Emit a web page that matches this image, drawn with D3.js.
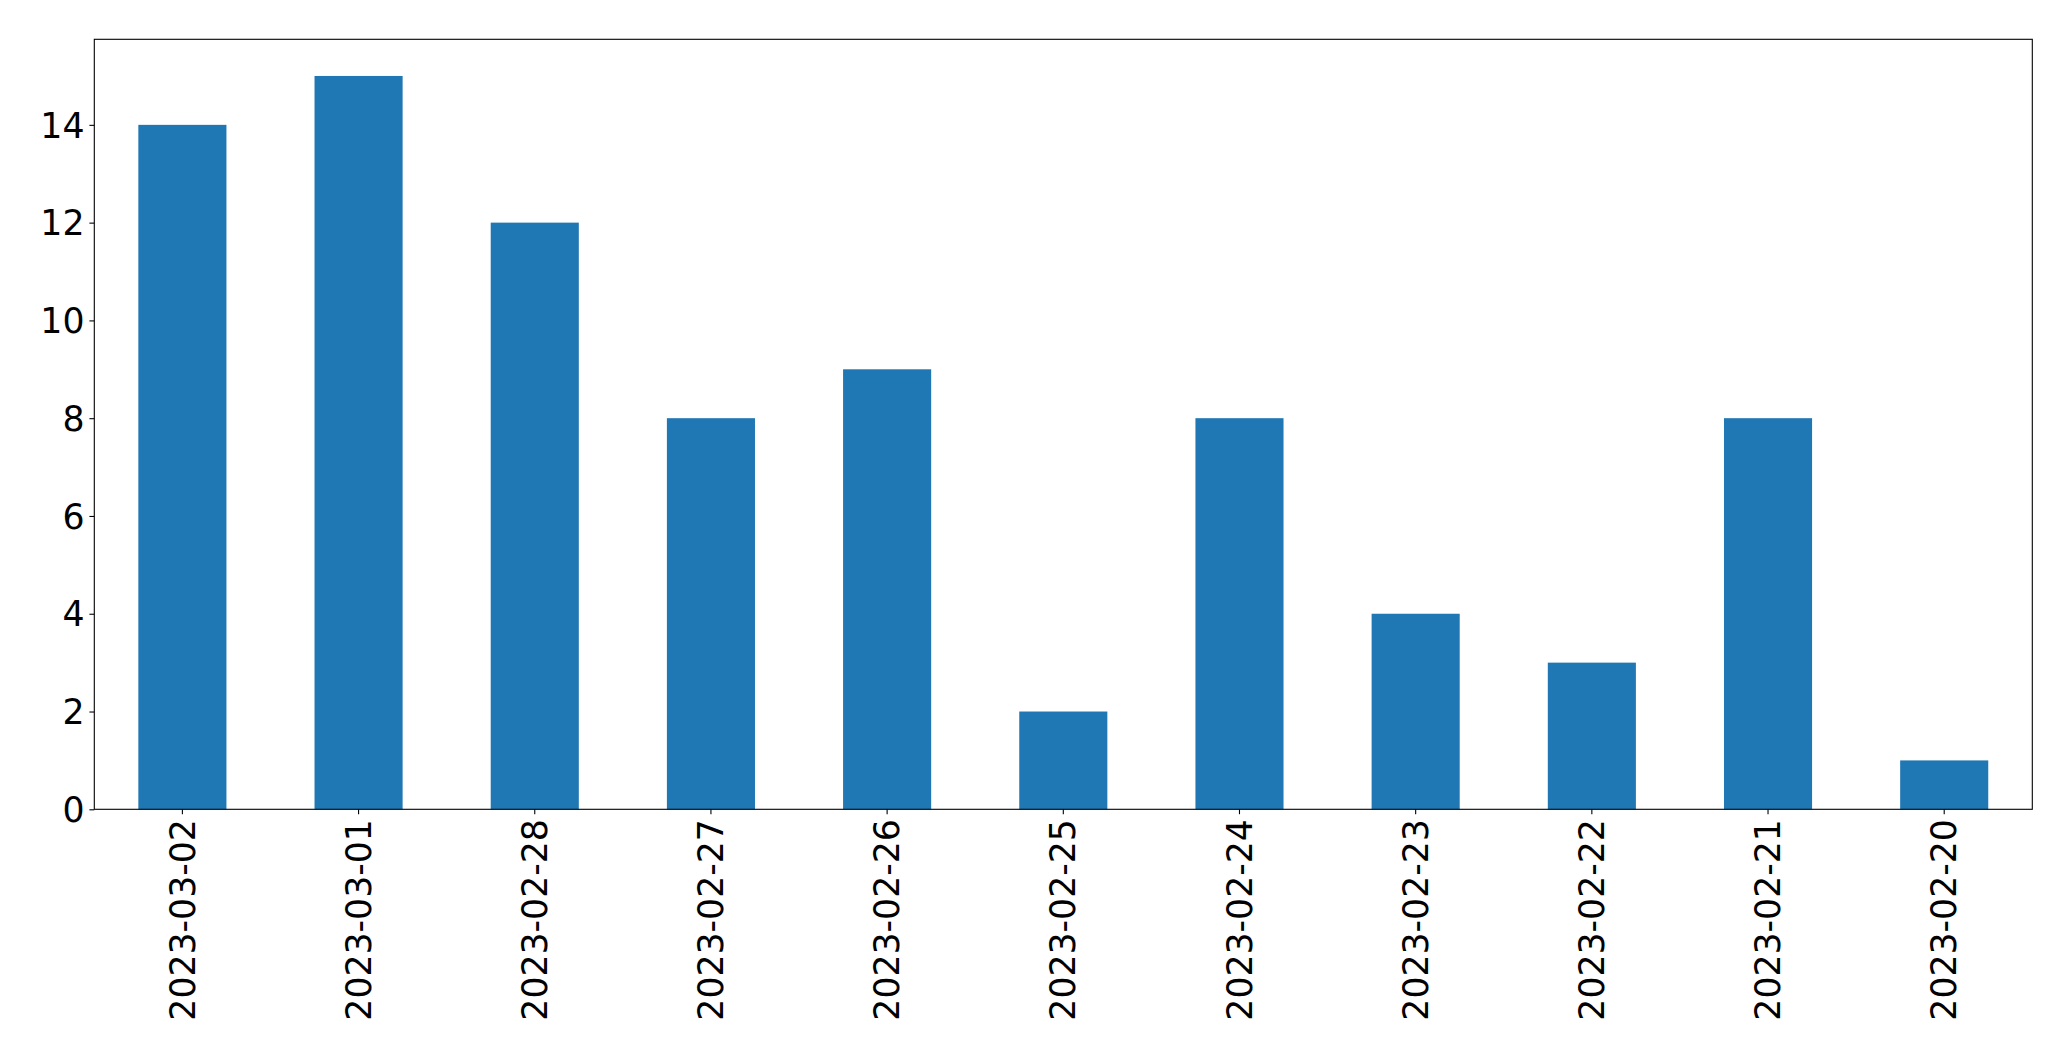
<!DOCTYPE html>
<html>
<head>
<meta charset="utf-8">
<script src="https://cdn.jsdelivr.net/npm/d3@7"></script>
<style>
  html, body { margin: 0; padding: 0; background: #fff; }
  svg { display: block; }
</style>
</head>
<body>
<svg id="chart" width="2071" height="1061"></svg>
<script>
const categories = ["2023-03-02","2023-03-01","2023-02-28","2023-02-27","2023-02-26","2023-02-25","2023-02-24","2023-02-23","2023-02-22","2023-02-21","2023-02-20"];
const values = [14, 15, 12, 8, 9, 2, 8, 4, 3, 8, 1];
const yTicks = [0, 2, 4, 6, 8, 10, 12, 14];

const W = 2071, H = 1061;
const margin = { left: 94.3, right: W - 2032.3, top: 39.3, bottom: H - 809.3 };
const svg = d3.select("#chart");
const iw = W - margin.left - margin.right;
const ih = H - margin.top - margin.bottom;
const g = svg.append("g").attr("transform", `translate(${margin.left},${margin.top})`);

const x = d3.scaleBand().domain(categories).range([0, iw]).paddingInner(0.5).paddingOuter(0.25);
const y = d3.scaleLinear().domain([0, d3.max(values) * 1.05]).range([ih, 0]);

g.selectAll("rect.bar").data(values).enter().append("rect")
  .attr("class", "bar")
  .attr("x", (d, i) => x(categories[i]))
  .attr("width", x.bandwidth())
  .attr("y", d => y(d))
  .attr("height", d => ih - y(d))
  .attr("fill", "#1f77b4");

const fontSize = 34.7;
const font = "'DejaVu Sans', sans-serif";

const yAxis = g.append("g")
  .call(d3.axisLeft(y).tickValues(yTicks).tickSize(4.9).tickPadding(4.9).tickFormat(d3.format("d")));
const xAxis = g.append("g").attr("transform", `translate(0,${ih})`)
  .call(d3.axisBottom(x).tickSize(4.9).tickPadding(4.9));

[yAxis, xAxis].forEach(a => {
  a.select(".domain").remove();
  a.selectAll(".tick line").attr("stroke", "#000").attr("stroke-width", 1.1);
  a.selectAll("text").attr("font-family", font).attr("font-size", fontSize).attr("fill", "#000");
});
yAxis.selectAll("text").attr("dy", "0.35em");

xAxis.selectAll(".tick text")
  .attr("transform", "rotate(-90)")
  .attr("text-anchor", "end")
  .attr("x", -9.8)
  .attr("y", 0)
  .attr("dy", "0.35em");

g.append("rect")
  .attr("x", 0).attr("y", 0).attr("width", iw).attr("height", ih)
  .attr("fill", "none").attr("stroke", "#000").attr("stroke-width", 1.1);
</script>
</body>
</html>
